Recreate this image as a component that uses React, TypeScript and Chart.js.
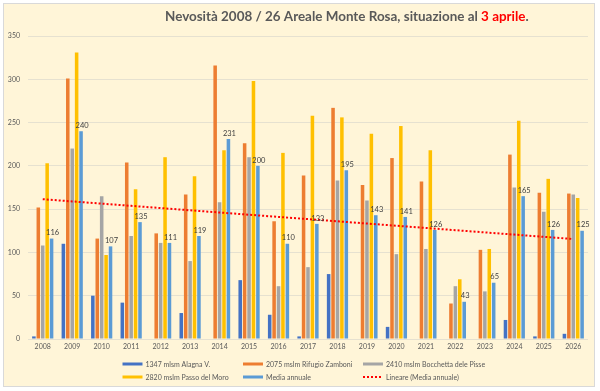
import React, { useEffect, useRef } from 'react';
import { Chart, registerables } from 'chart.js';
Chart.register(...registerables);

const years = ['2008','2009','2010','2011','2012','2013','2014','2015','2016','2017','2018','2019','2020','2021','2022','2023','2024','2025','2026'];
const alagna = [3,110,50,42,null,30,null,68,28,3,75,null,14,null,null,null,22,3,6];
const zamboni = [152,301,116,204,122,167,316,226,136,189,267,178,209,182,41,103,213,169,168];
const bocchetta = [108,220,165,119,111,90,158,210,61,83,183,160,98,104,61,55,175,147,167];
const moro = [203,331,97,173,210,188,218,298,215,258,256,237,246,218,69,104,252,185,163];
const media = [116,240,107,135,111,119,231,200,110,133,195,143,141,126,43,65,165,126,125];
const yTicks = [0,50,100,150,200,250,300,350];

const seriesNames = ['1347 mlsm Alagna V.','2075 mslm Rifugio Zamboni','2410 mslm Bocchetta dele Pisse','2820 mslm Passo del Moro','Media annuale','Lineare (Media annuale)'];
const seriesColors = ['#4472C4','#ED7D31','#A5A5A5','#FFC000','#5B9BD5','#FF0000'];

// least-squares linear trend of the annual mean (Excel "Lineare")
function linearTrend(vals: number[]): number[] {
  const n = vals.length;
  const mx = (n - 1) / 2;
  const my = vals.reduce((a, b) => a + b, 0) / n;
  let sxy = 0, sxx = 0;
  vals.forEach((v, i) => { sxy += (i - mx) * (v - my); sxx += (i - mx) * (i - mx); });
  const m = sxy / sxx;
  return vals.map((_, i) => my + m * (i - mx));
}
const trend = linearTrend(media);

const FONT = 'Lato, "Open Sans", sans-serif';
const TXT = '#595959';

const decorPlugin = {
  id: 'decor',
  beforeDraw(chart: any) {
    const ctx = chart.ctx;
    ctx.save();
    ctx.fillStyle = '#ffffff';
    ctx.fillRect(0, 0, chart.width, chart.height);
    ctx.fillStyle = '#FFF5D8';
    ctx.fillRect(3, 3, 592, 384);
    ctx.strokeStyle = '#D9D9D9';
    ctx.lineWidth = 1;
    ctx.strokeRect(3.5, 3.5, 591, 383);
    ctx.restore();
  },
  afterDraw(chart: any) {
    const ctx = chart.ctx;
    ctx.save();
    // title
    const p1 = 'Nevosità 2008 / 26 Areale Monte Rosa, situazione al ';
    const p2 = '3 aprile';
    const p3 = '.';
    ctx.font = `bold 100px ${FONT}`;
    const w100 = ctx.measureText(p1 + p2 + p3).width;
    const fs = Math.min(16, 100 * 364 / w100);
    ctx.font = `bold ${fs}px ${FONT}`;
    ctx.textBaseline = 'alphabetic';
    ctx.textAlign = 'left';
    let x = 165;
    const yb = 21;
    ctx.fillStyle = TXT; ctx.fillText(p1, x, yb); x += ctx.measureText(p1).width;
    ctx.fillStyle = '#FF0000'; ctx.fillText(p2, x, yb); x += ctx.measureText(p2).width;
    ctx.fillStyle = TXT; ctx.fillText(p3, x, yb);

    // data labels for Media annuale
    const meta = chart.getDatasetMeta(4);
    ctx.font = `7.5px ${FONT}`;
    ctx.fillStyle = '#404040';
    ctx.textAlign = 'center';
    ctx.textBaseline = 'bottom';
    meta.data.forEach((el: any, i: number) => {
      ctx.fillText(String(media[i]), el.x + 1, el.y - 2);
    });

    // legend
    const cols = [122.5, 243, 363];
    const rows = [364, 377];
    ctx.font = `7px ${FONT}`;
    ctx.textAlign = 'left';
    ctx.textBaseline = 'middle';
    seriesNames.forEach((name, i) => {
      const cx = cols[i % 3];
      const cy = rows[Math.floor(i / 3)];
      ctx.strokeStyle = seriesColors[i];
      if (i === 5) {
        ctx.lineWidth = 2;
        ctx.setLineDash([2, 2]);
      } else {
        ctx.lineWidth = 3;
        ctx.setLineDash([]);
      }
      ctx.beginPath();
      ctx.moveTo(cx, cy);
      ctx.lineTo(cx + 20, cy);
      ctx.stroke();
      ctx.setLineDash([]);
      ctx.fillStyle = TXT;
      ctx.fillText(name, cx + 23, cy + 0.5);
    });
    ctx.restore();
  },
};

export default function App() {
  const ref = useRef<HTMLCanvasElement>(null);
  useEffect(() => {
    if (!ref.current) return;
    const barDs = (label: string, data: any[], color: string) => ({
      type: 'bar' as const,
      label,
      data,
      backgroundColor: color,
      borderWidth: 0,
      categoryPercentage: 0.75,
      barPercentage: 0.8,
      order: 1,
    });
    const chart = new Chart(ref.current, {
      type: 'bar',
      data: {
        labels: years,
        datasets: [
          barDs(seriesNames[0], alagna, seriesColors[0]),
          barDs(seriesNames[1], zamboni, seriesColors[1]),
          barDs(seriesNames[2], bocchetta, seriesColors[2]),
          barDs(seriesNames[3], moro, seriesColors[3]),
          barDs(seriesNames[4], media, seriesColors[4]),
          {
            type: 'line' as const,
            label: seriesNames[5],
            data: trend,
            borderColor: '#FF0000',
            borderWidth: 2,
            borderDash: [2, 2],
            pointRadius: 0,
            fill: false,
            order: 0,
          } as any,
        ],
      },
      options: {
        responsive: false,
        animation: false,
        devicePixelRatio: 1,
        layout: { padding: { top: 36, right: 12, bottom: 38, left: 0 } },
        plugins: { legend: { display: false }, title: { display: false }, tooltip: { enabled: false } },
        scales: {
          x: {
            grid: { display: false, drawTicks: false },
            border: { display: false },
            ticks: { color: TXT, font: { family: FONT, size: 7 }, padding: 4, maxRotation: 0, autoSkip: false },
            afterFit: (s: any) => { s.height = 14; },
          },
          y: {
            min: 0,
            max: 350,
            afterBuildTicks: (s: any) => { s.ticks = yTicks.map((v) => ({ value: v })); },
            grid: { color: '#E6E1D0', lineWidth: 1, drawTicks: false },
            border: { display: false },
            ticks: { color: TXT, font: { family: FONT, size: 7 }, padding: 8 },
            afterFit: (s: any) => { s.width = 28; },
          },
        },
      },
      plugins: [decorPlugin],
    } as any);
    return () => chart.destroy();
  }, []);
  return (
    <div style={{ position: 'absolute', left: 0, top: 0, width: 600, height: 391 }}>
      <canvas ref={ref} width={600} height={391} style={{ display: 'block', width: 600, height: 391 }} />
    </div>
  );
}
